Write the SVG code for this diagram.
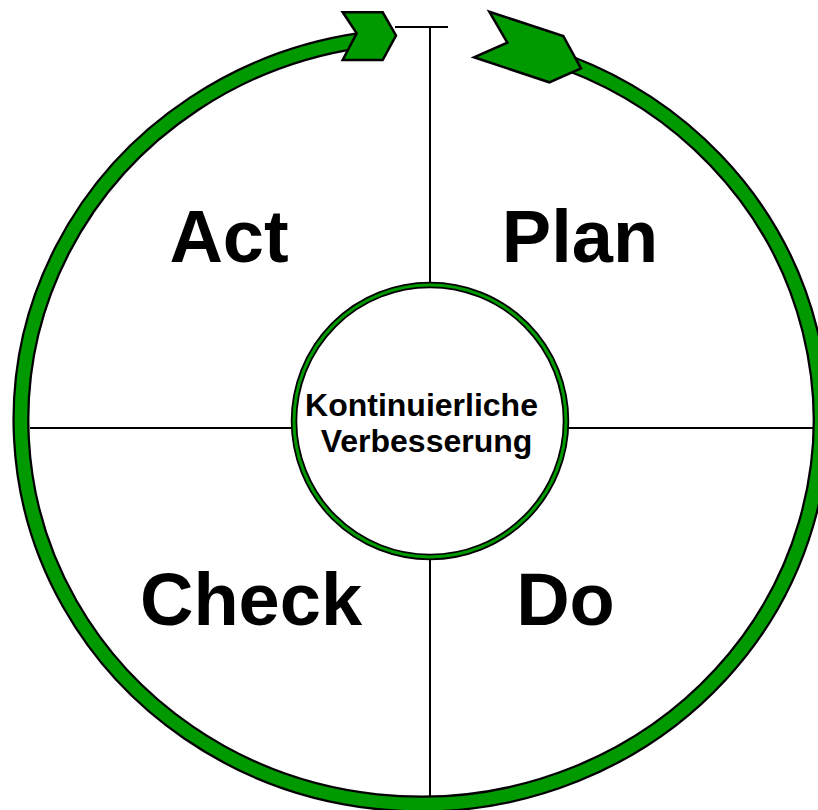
<svg xmlns="http://www.w3.org/2000/svg" width="818" height="810" viewBox="0 0 818 810">
  <style>
    .line { stroke: #000; stroke-width: 2; fill: none; }
    .band-out { stroke: #000; stroke-width: 17; fill: none; }
    .band-in { stroke: #009900; stroke-width: 12.5; fill: none; }
    .arrow { fill: #009900; stroke: #000; stroke-width: 2.5; stroke-linejoin: miter; }
    .big { font-family: "Liberation Sans", Arial, sans-serif; font-weight: bold; font-size: 74px; fill: #000; text-anchor: middle; }
    .small { font-family: "Liberation Sans", Arial, sans-serif; font-weight: bold; font-size: 32px; fill: #000; text-anchor: middle; }
  </style>
  <rect width="818" height="810" fill="#fff"/>
  <g id="connectors">
    <line class="line" x1="395" y1="27" x2="448" y2="27" stroke="#555" stroke-width="1"/>
    <line class="line" x1="430" y1="28" x2="430" y2="797"/>
    <line class="line" x1="30" y1="428" x2="817" y2="428"/>
  </g>
  <g id="cycle-ring">
    <path class="band-out" d="M 568 62.9 A 400 384 0 1 1 360 40.5"/>
    <path class="band-in" d="M 568 62.9 A 400 384 0 1 1 360 40.5"/>
    <polygon id="arrow-left" class="arrow" points="342.7,12.3 382.7,12.3 396,35.5 382.7,60 342.7,60 356.7,33.3"/>
    <polygon id="arrow-right" class="arrow" points="489.3,11.7 563.3,36 581,68.3 549.3,82.3 474,57.3 507.3,42.7"/>
  </g>
  <g id="center">
    <circle cx="430" cy="421" r="136" fill="#fff" stroke="#000" stroke-width="6.5"/>
    <circle cx="430" cy="421" r="136" fill="none" stroke="#009900" stroke-width="3"/>
    <text class="small" x="421.5" y="416">Kontinuierliche</text>
    <text class="small" x="426.5" y="452">Verbesserung</text>
  </g>
  <g id="act"><text class="big" x="229" y="262">Act</text></g>
  <g id="plan"><text class="big" x="580" y="262">Plan</text></g>
  <g id="check"><text class="big" x="251" y="625">Check</text></g>
  <g id="do"><text class="big" x="565.5" y="625">Do</text></g>
</svg>
